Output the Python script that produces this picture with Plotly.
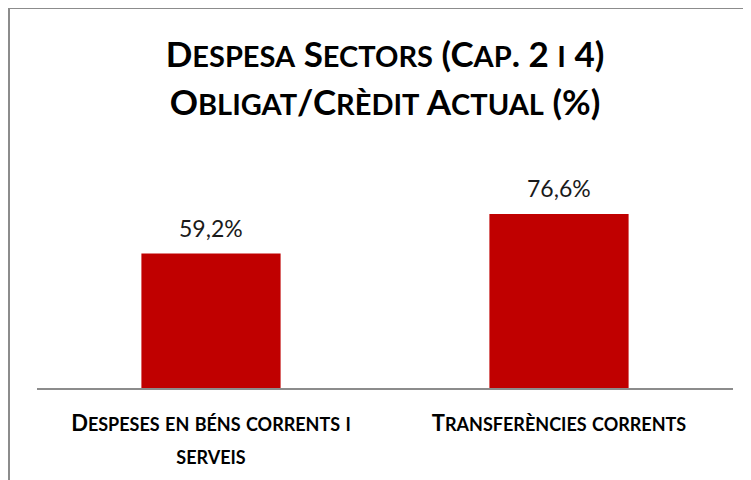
import re
import plotly.graph_objects as go

categories = ["Despeses en béns corrents i serveis", "Transferències corrents"]
category_lines = [["Despeses en béns corrents i", "serveis"], ["Transferències corrents"]]
values = [59.2, 76.6]
title_lines = ["Despesa Sectors (Cap. 2 i 4)", "Obligat/Crèdit Actual (%)"]

FONT = "Lato"
W, H = 751, 480
# page body has an 8px margin: figure coords = screen coords - 8
L, R, T, B = 29, 26, 153, 100
pw, ph = W - L - R, H - T - B


def small_caps(text, big, small):
    """Small caps: lower-case letters drawn as capitals at `small` px, everything else at `big` px."""
    out = []
    for part in re.findall(r"[a-zß-ÿ]+|[^a-zß-ÿ]+", text):
        if part.upper() != part:
            out.append('<span style="font-size:%dpx">%s</span>' % (small, part.upper()))
        else:
            out.append('<span style="font-size:%dpx">%s</span>' % (big, part))
    return "".join(out)


tick_text = ["<br>".join(small_caps(s, 22, 18) for s in lines) for lines in category_lines]
title_text = "<b>" + "<br>".join(small_caps(s, 35, 29) for s in title_lines) + "</b>"

fig = go.Figure()
fig.add_trace(go.Bar(
    x=categories, y=values,
    marker=dict(color="#C00000", line=dict(width=0)),
    width=0.4,
    hoverinfo="skip",
))
for c, v in zip(categories, values):
    fig.add_annotation(
        x=c, y=v, xref="x", yref="y",
        text=("%.1f" % v).replace(".", ",") + "%",
        showarrow=False, yanchor="bottom", yshift=10,
        font=dict(family=FONT, size=23, color="#1a1a1a"),
    )

fig.update_layout(
    width=W, height=H,
    margin=dict(l=L, r=R, t=T, b=B),
    paper_bgcolor="white", plot_bgcolor="white",
    showlegend=False,
    title=dict(
        text=title_text,
        x=0.5, xref="paper", xanchor="center",
        y=1 - 59 / H, yref="container", yanchor="middle",
        font=dict(family=FONT, size=37, color="#000000"),
    ),
    xaxis=dict(
        showline=True, linecolor="#8c8c8c", linewidth=2,
        showgrid=False, ticks="", zeroline=False,
        tickmode="array", tickvals=categories, ticktext=tick_text,
        tickfont=dict(family=FONT, size=25, color="#000000", weight="bold"),
        ticklabelstandoff=11, automargin=False,
    ),
    yaxis=dict(range=[0, 100], visible=False, showgrid=False, zeroline=False),
    shapes=[dict(
        type="rect", xref="paper", yref="paper",
        x0=(1 - L) / pw, x1=(W + 20 - L) / pw,
        y0=-(B + 20) / ph, y1=(ph + T) / ph,
        line=dict(color="#8c8c8c", width=2), fillcolor="rgba(0,0,0,0)",
        layer="below",
    )],
)

fig.write_html("out.html")
